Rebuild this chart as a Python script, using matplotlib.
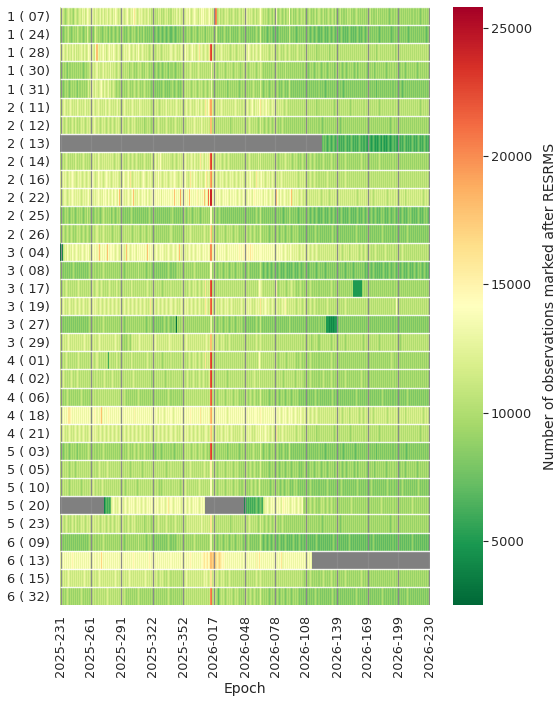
import numpy as np
import matplotlib
matplotlib.use("Agg")
import matplotlib.pyplot as plt
from datetime import date, timedelta

# ---------------- data ----------------
row_labels = ["1 ( 07)", "1 ( 24)", "1 ( 28)", "1 ( 30)", "1 ( 31)",
              "2 ( 11)", "2 ( 12)", "2 ( 13)", "2 ( 14)", "2 ( 16)", "2 ( 22)", "2 ( 25)", "2 ( 26)",
              "3 ( 04)", "3 ( 08)", "3 ( 17)", "3 ( 19)", "3 ( 27)", "3 ( 29)",
              "4 ( 01)", "4 ( 02)", "4 ( 06)", "4 ( 18)", "4 ( 21)",
              "5 ( 03)", "5 ( 05)", "5 ( 10)", "5 ( 20)", "5 ( 23)",
              "6 ( 09)", "6 ( 13)", "6 ( 15)", "6 ( 32)"]

start_year, start_doy, n_days = 2025, 231, 365

# one letter per day: a=2000, b=3000, ... (thousands, +1 per letter); '.' = no data
row_codes = [
 # 1 ( 07)
 "jikji hijkj ijihj kjijk kjlkl jkmlk kjlkj lkjkl jkljk kljkl kjlkm lkjkj"
 "klkjk lmkjk lkmol kjklk lkjkk jkljk ijkji jikjk ijijk jkiji kjkjl kjlkj"
 "kljkl lkmkj klmlk kjlkm lmklk klmkl jkqts ijkij jijkj kjiji jkjij ijkji"
 "kjklk jkjkj ijkij jkmkj ijiji hijih jijmi hijih ijhij imhij hihij ihiji"
 "ijhih ijihi hijhi jihij hihij ihiji hjhih ijhih hihji ijhih hijih ihihi"
 "hihih ijhih hihjh ihihi hihih ghihi hihgh ihihi hihih ihhih hihih ghihi hihih",
 # 1 ( 24)
 "hihgh ihijh hghih ihjih hihgh ihkih hihgi kihih hghih ihgih ghihg hihgi"
 "hihgh ghihg hihih ghigh hgihg hghgh ghgfg hgfgh gfghg fghgf ghgfg hghgh"
 "hihgh ihihg hihih ghihi hihgi hihih ihihk hghgh ghihg hghig hghgh ghihg"
 "hghgh ghghg hghih ghkhg hghgf ghghg fghgf ghghg hghgh gjhgh ghgfg hghgh"
 "ghgfg hgfgh gfghg fgfgh gfgfg hgfgh gfgfg fghgf gfgfg hgfgf gfghg fgfgh"
 "gfghg hghgh ghghg fghgh ghghg hgfgh ghghg hghgh ghgfg hghgh ghghg hghgh gfghg",
 # 1 ( 28)
 "kjklk jkljk kjlkj ljkjk klkjl kjkml lmlkj mqlkl klmkl jklmk lkmlk jklkj"
 "kjklk lklmk jklkj lkmkj klkjk jkjij kjkji jkjkj ijkjk jkjkl kjklk jkjkl"
 "kjkmk lkjkl mklkj klokl kjklk jkouv kjkjk jkjkl kjkjk jkjij kjkji jkjkj"
 "kjklk mlkjk ljklk jkmkj kjkjk jijkj kjkji jkjij ijkji jkjij ijijk jijij"
 "jijij ijiji jijhi ijiji jijij hijij ijiji jijij ijiji jijij ijiji jijij"
 "ijiji jijij ijhij jijij ijiji jijij hijij ijiji jijij ijiji jijij ijiji jijij",
 # 1 ( 30)
 "hihih ihgih hihih ihihi hihgh ihiij jkjkj kljkj jkljk kjkjl jkjkj ijkji"
 "ijiji jijhi ijihi hijij ihihj ijihi hihgh ihghi hghih ihgih hihgh ihihi"
 "ijiji jijkj ijiji jkjij ijiji jijin ijiji hijij ijihi jijij ihiji jiihi"
 "ijiji hijij ijihi jikji hihih ihihi ihiji hihih ihjhi hihih ihihi hihih"
 "hihih ghihi hghih ihghi hihgh ihihi ghihi hihgh ihghi hihih ghigh ihihi"
 "hihgh ihihi ghihi hihih ihghi hihih ihihg hihih ghihi hihih ihghi hihih ihihi",
 # 1 ( 31)
 "hihgh ihihg hihih ihgih hihih ihiki kmlkj lkjkl mkjlk jkljk ijkji hiihi"
 "ihihi hijih ihiji hijih ihiji hihih ghghg hghgh ghihg hghgh ihghi hghgh"
 "ihiji jijih ijiji hijij ihiji hijil ihihi hihih ihihi ghihi hihih ihghi"
 "hihih ihihi jihih ihkih ghihi hghih ihghi hghgh ihghg hjhgh ghghg hghgh"
 "ghghg hghgh ghghg hghgh gfghg hghgh ghghg hghgf ghghg hghgh ghghg hghgh"
 "ghghg hghgh ghfhg hghgh ghghg hghgh ghghg hgfgh ghghg hghgh ghghg hghgh ghghg",
 # 2 ( 11)
 "jkjkl kjkjk lkjkj kjlkj kjkjk ljkjk kjklk jklkj kjkjl kjklk jkjkj kljkj"
 "kjklk jkjkj klkjk jkjlk kjkjk jkjkj ijkjk jkjij kjkjk ljkjk jkjkl kjkjk"
 "jkjkl kjklk jkjkl kljkl kjkol kmorr kjkjk jkjkl kjkjk jkjkj kjklk jkjkj"
 "jkjkl kjklm kjlkl kmokl lklmk lkjkl klnkj kjkjk jijkj ijiji jijij ijiji"
 "jijij ijiji jijhi ijiji jijij ijiji hijij ijiji jijij ihiji jijij ijiji"
 "ijiji jijij ijiji hijij ijiji jijij ijihi jijij ijiji jijij ijiji hijij ijiji",
 # 2 ( 12)
 "ijkji jkjij ijkji kjiji jkjkj ijkjk jkjkl kjkji jkjkj ijkji jkjij kjkji"
 "jkjij ijkji jkjkj ijiji jijhi ijiji hijij ijkji jijij kjiji jijkj ijiji"
 "jkjij kjkjk jklkj kjkjl kjkjk jkjqq ijiji jijij ijiji jijhi ijiji jijij"
 "ijiji jkjij ijiji hikij ihiji hijih ijiji hihij ihihi hihih ihihi hihih"
 "ihihi hihih ihihi hihgh ihihi hihih ihihi hghih ihihi hihih ihihi hihih"
 "ihihi hihih ihihi hihih ihihi hghih ihihi hihih ihihi hihih ihihi hihih ihihi",
 # 2 ( 13)
 "." * 258 +
 "fg fgfef gfefg fefgf efefe fgfef efgfe fefef gfefe"
 "efede fedef edede fedfe dedef edefe fedef efefg fefef efgfe fefgf efefg fefef",
 # 2 ( 14)
 "ijiji jkjij ijiji kjiji jijkj ijiji jkjkj kjlkj jkjkj kjkjk jkjij kjkji"
 "jkjij ijkji jkjij kjiji jijkj ijiji kjkjl kjlkm kjkjk jkjkj ijkji jkjkj"
 "kjklk jkjkl kjlkj kjkok lkjlk lkouv kjkjk jkjkj ijkji jkjij ijiji jijij"
 "ijiji jkjij ijiji kikij ijiji jijij ijiji hijij ijkji jijih ijiji hihij"
 "ihiji hijih ijihi hihij ihihi hijih ihihi hihih ijihi hihih ihihi hijih"
 "ihihi hihih ihihi jihih ihihi hihih ihihi hihih ihihi hihih ihihi hihih ihihi",
 # 2 ( 16)
 "kjklk lkjkl klmlk kjklk lkjkl kjklk klmlk jkmlk lkjkl mlklk jklkl klkjk"
 "lkmlk klmko kjklk lklkj klmlk jklkl kjklk lkmkl kjklk lkjkl klmlk kjklk"
 "lklmk kjkol klmkl kjlkl kjkmo klkrs klmkl kjklk lkjkl kjklk lkjkl kjklk"
 "lkjkl klmkl kjkol lklmk lkjkl kljkl kjlkj kjklk jkjkj kjkjk jkjkj ijkjk"
 "jkjij ijkji jkjij ijiji jijkj ijiji jijij ijiji jkjij ijiji jijij ijiji"
 "jijij ijiji jijij ijiji jijij ijiji jijij ijiji jijij ijiji jijij ijiji jijij",
 # 2 ( 22)
 "kljkl lkjkl klmlk lklkl kjklk lklmk lmlkl klmlk lkmlm lkmlk lmklm lkmqk"
 "lmlkl klmlk lmqlk lkmlk lmlml kmlkl lmlml mlmlm kmlml mlmlm lmqml mlmrl"
 "mlmlm lmqml mlmlm nlmlm lmqlm ltmww lmlml mlmlk lmlml mlkml lmlml klmlk"
 "lmlkl mlmlk mnmlm lmlml kmlml klmlk lmlqm lkmlk lmlkl klmqk lklkl kjklk"
 "jkjkj kjkjk jkjkj kjijk jkjkj ijkjk jkjkj kjkjk jkjkj kjkjk jkjij kjkjk"
 "jkjkj kjkji jkjkj kjkjk jkjij kjkjk jkjkj kjkjk ijkjk jkjkj kjkjk jkjij kjkjk",
 # 2 ( 25)
 "hihgh ihihg hihih ghihi hihgh ihjhi hihgh ihihg hijih ihihi ghihg hihih"
 "ghghg hghgh ihghg hghgh ghghg hghih ghghg hghgh ghghg hghgh ihghg hghgh"
 "ghihg hihih ghihi hihgh ihihi hihmm hihih ghihg hghgh ghghg hghgh ghghg"
 "hghgh ghghg hghih ghjhg hghgh ghghg hghgh ghghg fghgh gihgh ghghg fghgh"
 "ghgfg hgfgh gfghg fgfgh gfgfg hgfgh gfgfg fghgf gfgfg hgfgf gfghg fgfgh"
 "gfghg fghgf ghgfg fghgh gfgfg hgfgh gfgfg fghgf gfghg hgfgf gfghg fgfgh ghgfg",
 # 2 ( 26)
 "ihiji hijih ijihi hijij ihiji hijih ijiji jkjij ijkji jijij ihiji jijih"
 "ijiji jijij ihiji jijih ijiji hijij ihihi hihih ihihi hihij ihihi hihih"
 "ijiji jijkj ijiji jijij ijkji jijoq ijiji hijij ijihi jijij ihiji jihih"
 "ihiji hijih ijihi hikih ihihi hghih ihihi hghih ihghi hihgh ihihi hghgh"
 "ghghg hghgh ghihg hghgh ghghg hghih ghghg hghgh ghghg hghgh ghihg hghgh"
 "ghghg hghgh ghghg hghih ghghg hghgh ghghg hghgh ghihg hghgh ghghg hghgh ghghg",
 # 3 ( 04)
 "bccjk lkmlk lkmlk lmlkl klmlk lmlmk lmlml mlnql mlmlm lqmlm mlmlk lmlkl"
 "lmlkl qlmlk lmlml kmlml mlmlm lqmlm lmlkl mlklm lmlkl klmlk lmlkl mlqlk"
 "lmlkl klmlk lmlkl mlmlk lmlml lmlss lmlml kmlml mlmlk lmlml mlmlm lmnml"
 "mnmnm nmomn mlmlm lmmml mlmlm lmlml mlmlm lmlml klmlk lkmlk lklkl kjklk"
 "klkjk lkjkl kjklk jkjkj kjkjk jkjkj kjkjk jkjij kjkjk ijkjk jkjkj ijkji"
 "jkjij kjiji jkjij ijiji jkjij ijiji jijij ijkji jijij ijiji jijij ijiji jijij",
 # 3 ( 08)
 "hghgh ghghg hghih ghghg hghgh ghghi hihih ihihi hijih ihihi hihih ihihi"
 "hihgh ihihi hihih ihjhi hihih ghihi hghgh ghghg hghgh ghihg hghgh ihihi"
 "hihih ihihi hijih ihihi hihih ihimm hihih ghihi hghih ihghi hihgh ihihi"
 "hghgh ihghg hghgh ghjhg fghgf ghgfg hgfgf ghgfg fghgf gfgfg hgfgf ghgfg"
 "ghghg fghgh ghgfg hghgh gfghg hghgh ghgfg hghgh gfghg hghgf ghghg hghgh"
 "gfgfg hgfgh gfgfg fgfgh gfgfg hgfgh gfgfg fghgf gfghg fgfgh gfghg hgfgh gfgfg",
 # 3 ( 17)
 "ijiji jkjij ijiji jijkj ijiji jijij ijkji jkjij kjiji jijkj ijiji kjiji"
 "jijij ijiji kjiji jijij ijiji jkjij ijiji jijij ihiji jijij ijiji jijij"
 "jkjij ijkji jkjkj ijkji jkjoj kjkuv ijiji jijij ijiji jijij ijiji jijij"
 "ijiji jijij ijiji kmlkj ijiji jijij ijini hijij ijihi jijkj ijihi hijih"
 "ihihi hijih ihihi hihih ihihi hijih ihihi hihih ihihi hihid ddddd dddhi"
 "hihih ihihi hihih ihihi hihih ihihi hihih ihihi hihih ihihi hihih ihihi hihih",
 # 3 ( 19)
 "kjklk jkjkl kjkjk lkjkl kjklk jkjkl kjklk lkjkl kjklk jklkj klkjk lkjkl"
 "kjklk jklkj klkjk lkjkl kjklk jkjko kjklk jklkj klkjk lkjkl kjklk jkjkl"
 "kjklk lkjkl kjklk jklkj kjkol kjktu kjklk jkjkl kjklk lkjkl kjkjk jkjkl"
 "kjklk lklkj kjklk lkokl klmlk lkjkl kjklk jkjkl klnkj kjkjk jkjij kjkji"
 "jkjij ijkji jkjij ijiji jijkj ijiji jijij ijiji jkjij ijiji jijij ijiji"
 "jijij ijiji jijij ijiji jijij ijiji jmjij ijiji jijij ijiji jijij ijiji jijij",
 # 3 ( 27)
 "hghgh ghghg hghgh ghghg hghgh ghghi hihih ihihi hijih ihihi hihih ihihi"
 "hihgh ihihi hihih ihihi hihih ghihi hghgh ghghg hghih ghihg hghgb ihihi"
 "iwihi hihih ihihi hihih ihihi hihkl hihih ghihi hghih ihghi hihgh ihihi"
 "hghgh ghghg hghih ghjhg hghgh ghghg hghgh ghghg hghgh gihgh ghghg hghgh"
 "ghghg hghgh ghghg hghgh ghddd cdcdc dddhg hghgh ghghg hghgh ghghg hghgh"
 "ghghg hghgh ghghg hghgh ghghg hghgh ghghg hghgh ghghg hghgh ghghg hghgh ghghg",
 # 3 ( 29)
 "jkjkj kjklk jkjkj kjkjk jkjkl kjkjk jkjkj kjklk jkjkj kjkjk jkjkl kjkjk"
 "ihihi hijih jkjkj kjklk jkjkj kjkjk jkjkl kjkjk jkjkj kjklk jkjkj kjkjk"
 "jkjkl kjkjk jkjkj kjkjk jkjkl kjkqq jkjkj kjijk jkjij ijkji jijij ijiji"
 "jijij ijiji jijkj ijkji jijij ijiji jijij ijiji jijij ijiji jijij ijiji"
 "ijiji jijhi ijiji hijij ijiji jihij ijiji jijij ihiji jijij ijiji jijih"
 "ijiji jijij ijiji hijij ijiji jijij ijiji hijij ijiji jijij ijiji jijij ijiji",
 # 4 ( 01)
 "ijiji jkjij ijiji jijkj ijiji jijij ijkji jkjij ijiji jiejj ijiji kjiji"
 "jijij ijiji kjiji jijij ijiji jkjij ijiji jijij ihiji jijij ijiji jijij"
 "jkjij ijkji jkjkj ijkji jkjoj kjkuv ijiji jijij ijiji jijij ijiji jijij"
 "ijiji jijij ijiji kmkij ijiji jijij ijiji hijij ijihi jijij ijihi hijih"
 "ihihi hijih ihihi hihih ihihi hijih ihihi hihih ihihi hihih ihihi hihih"
 "ihihi hihih ihihi hihih ihihi hijih ihihi hihih ihihi hihih ihihi hihih ihihi",
 # 4 ( 02)
 "jijkj ijiji jkjij ijkji jijij ijiji jkjij ijiji jijkj ijiji jkjij ijiji"
 "ijiji jijij ijkji jijij ijiji jijij hijij ijiji jijih ijiji jijij ijiji"
 "jijij kjiji jkjij ijkji jkjij ijkuv ijiji jijij ijiji hijij ijiji jijij"
 "ijiji jijij jkjij ikiji jijij ijiji jijij ijiji hijij ijiji jihij ijiji"
 "ihiji hijih ihihi hihij ihihi hijih ihihi hihih ijihi hihih ihihi hijih"
 "ihihi hihih ihihi hihih ihihi hihih ihihi hihih ihihi hihih ihihi hihih ihihi",
 # 4 ( 06)
 "ihihi hijih ihihi hihih ijihi hihih ijiji jijij ijiji jijij ijiji jijij"
 "ijiji hihih ihihi hijih ihihi hihih ihihi hihih ihihi hijih ihihi hihih"
 "ijiji jijij ijiji jijij ijiji jijtu ijiji hijij ijihi jijij ihiji jihih"
 "ihiji hijih ijihi hikih ihihi hghih ihihi hghih ihghi hihgh ihihi hghgh"
 "ghghg hghgh ghihg hghgh ghghg hghih ghghg hghgh ghghg hghgh ghihg hghgh"
 "ghghg hghgh ghghg hghih ghghg hghgh ghghg hghgh ghihg hghgh ghghg hghgh ghghg",
 # 4 ( 18)
 "lmlml mlmoo nmlml mlmlm lmlml mlmlm lmlmn mlmln qlmlm lmnml mlmlm lmlml"
 "lmlml mlmlm lmlnl mlmlm lmlml mlmlm lmlml mlkml lmlkl mlmlm lklml mlmlm"
 "lmlml mlmnm lmlml mlmol mlmlm lmlqr lmlml mlmlm lmlml klmlm lmlml mlmlm"
 "lmlml mlmlm lmmml mlnml lmlml mlmlm lmlml lmlkl mlmlk lmlml klmlk lkmlk"
 "klkjk lkjkl kjklk jkjkj kjkjk jkjkj kjkjk jkjij kjkjk ijkjk jkjkj ijkji"
 "jkjkj kjkji jkjkj kjkjk jkjij kjkjk jkjkj kjkjk ijkjk jkjkj kjkjk jkjij kjkjk",
 # 4 ( 21)
 "kjklk jkjkl kjkjk lkjkl kjklk jkjkl kjklk lkjkl kjklk jklkj klkjk lkjkl"
 "kjklk jklkj klkjk lkjkl kjklk jkjkl kjklk jklkj klkjk lkjkl kjklk jkjkl"
 "kjklk lkjkl kjklk jklkj kjkll kjkpq kjklk jkjkl kjklk lkjkl kjkjk jkjkl"
 "kjklk lklkj kjklk lkmkl klmlk lkjkl kjkok jkjkl kjkkj kjkjk jkjij kjkji"
 "jijij ijiji jijhi ijiji jijij ijiji hijij ijiji jijij ihiji jijij ijiji"
 "ijiji jijij ijiji hijij ijiji jijij ijihi jijij ijiji jijij ijiji hijij ijiji",
 # 5 ( 03)
 "hihgh ihihg hihih ihgih hihih ihiji hihih ihihi hijih ihihi hihih ihihi"
 "ihihi hijih ihiji hijih ihiji hihih ihihg hihih ghihi hihih ihghi hihih"
 "ihiji jijih ijiji hijij ihiji hihuv ihihi hihih ihihi ghihi hihih ihghi"
 "hihih ihihi jihih ihkih ghihi hghih ihghi hghgh ihghg hjhgh ghghg hghgh"
 "ghghg hghgh ghghg hghgh gfghg hghgh ghghg hghgf ghghg hghgh gfghg hghgh"
 "ghghg hghgh ghfhg hghgh ghghg hghgh ghghg hghgh gfghg hghgh ghghg hghgh ghghg",
 # 5 ( 05)
 "ijiji jijih ijiji hijij ijiji jijij ijiji jijkj ijiji jkjij ijiji jijij"
 "ijiji jijih ijiji jijij ihiji jijij ijiji jijij ijiji hijij ijiji jijij"
 "ijiji jijkj ijiji jijij ijkji jijnn ijiji hijij ijihi jijij ihiji jihih"
 "ihiji hijih ijihi hikih ihihi hghih ihihi hghih ihghi hihgh ihihi hghgh"
 "hihih ghihi hghih ihghi hihgh ihihi ghihi hihgh ihghi hihih ghigh ihihi"
 "hihgh ihihi ghihi hihih ihghi hihih ihihg hihih ghihi hihih ihghi hihih ihihi",
 # 5 ( 10)
 "ihiji jijih ijiji jijij ihiji jijij jijkj ijiji jkjij ijiji jijij ijiji"
 "jijih ijiji jijij ihiji jijij ijiji jijij ijihi hijij ijiji jijij ijihi"
 "jijkj ijiji jijij ijkji jijij ijimm ijiji hijij ijihi jijij ihiji jihih"
 "hijih ihiji hijih ikihi hihih ihghi hihih ihghi hghih ihghg hihih ghghg"
 "hghih ghihg hghgh ghghg hghih ghghg hghgh ghihg hghgh ghghg hghih ghghg"
 "hghgh ghihg hghgh ghghg hghih ghghg hghgh ghihg hghgh ghghg hghih ghghg hghgh",
 # 5 ( 20)
 "." * 43 + "cefefef" +
 "klmlk lklml mlklm lklml mlmlk lmlml klmlk lmlml mlklm"
 "lmlkl mlmlk lmolm lklml mlmlk lmlml klmlk lmlml mlklm lml" +
 "." * 39 +
 "cefefefefefgfefgfejkl"
 "lmlkl mlmlk lmlml kmnml mlmlk lmlml klmlk lm"
 "ihiji hijih ijihi hijij ihiji hijih ihihi hihih ihihi hijih ihihi hihih ihihi"
 "hihih ihihi hijih ihihi hihih ihihi hihih ihihi hijih ihihi hihih ihihi",
 # 5 ( 23)
 "ijkji jkjij ijkji kjiji jkjkj ijkjk jkjkj kjkji jkjkj ijkji jkjij kjkji"
 "jkjij ijkji jkjkj ijiji jijhi ijiji hijij ijkji jijij kjiji jijkj ijiji"
 "jkjij kjkjk jkjkj kjkjl kjkjk jkjoo ijiji jijij ijiji jijhi ijiji jijij"
 "ijiji jkjij ijiji hikij ihiji hijih ijiji hihij ihihi hihih ihihi hihih"
 "ihihi hihih ihihi hihgh ihihi hihih ihihi hghih ihihi hihih ihihi hihih"
 "ihihi hihih ihihi hihih ihihi hghih ihihi hihih ihihi hihih ihihi hihih ihihi",
 # 6 ( 09)
 "hghgh ghghg hghgh ghghg hghgh ghghi hihih ihihi hijih ihihi hihih ihihi"
 "hihgh ihihi hihih ihjhi hihih ghihi hghgh ghghg hghgh ghihg hghgh ihihi"
 "hihih ihihi hijih ihihi hihih ihill hihih ghihi hghih ihghi hihgh ihihi"
 "hghgh ihghg hghgh ghjhg fghgf ghgfg hgfgf ghgfg fghgf gfgfg hgfgf ghgfg"
 "gfgfg fgfgf gfghg fgfgf gfgfg fgfgh gfgfg fgfgf gfgfg hgfgf gfgfg fgfgf"
 "gfgfg fgfgh gfgfg fgfgf gfgfg fgfgf gfgfg fgfgf gfgfg fghgf gfgfg fgfgf gfgfg",
 # 6 ( 13)
 "lmlml mlmlm lmnml mlmlm lmlml mlmlm lmlml mlmlm pmlml mlmlm lmlml mlmlm"
 "nmlml mlmlm lmnml mlmlm lmlml mlmnm lmlml mlmlm lmlml mlmlm lmlml mlmlm"
 "lmlml mlmnm lmlml mlmlm mnomn omnqq pqopo nopon mnmlm lmlml mlmlm lmlml"
 "lmlml mlmlm lmlnl momlm lmlml mlmlm lmlml mlmol lmlml mlmlm lmlml mlmlm"
 "lmlmlmlml" + "." * 116,
 # 6 ( 15)
 "jkjkj kjklk jkjkj kjkjk jkjkl kjkjk jkjkj kjklk jkjkj kjkjk jkjkl kjkjk"
 "jkjkj kjklk jkjkj kjkjk jkjkl kjkjk jkjkj kjijk jkjij ijkji jijij ijiji"
 "jkjkl kjkjk jkjkj kjkjk jklkl kjkoo jkjkj kjijk jkjij ijkji jijij ijiji"
 "jijij ijiji jijkj ijkji jijij ijiji jijij ijiji jijij ijiji jijij ijiji"
 "ihiji hijih ihihi hihij ihihi hijih ihihi hihih ijihi hihih ihihi hijih"
 "ihihi hihih ihihi hihih ihihi hihih ihihi hihih ihihi hihih ihihi hihih ihihi",
 # 6 ( 32)
 "ihihi hijih ihihi hihih ijihi hihih ijiji jijij ijiji jkjij ijiji jijij"
 "ijiji hihih ihihi hijih ihihi hihih ihihi hihih ihihi hijih ihihi hihih"
 "ijiji jijij ijiji jijij ijiji jijst ijiji hfhij ijihi jijij ihiji jihih"
 "ihiji hijih ijihi hikih ihihi hghih ihihi hghih ihghi hihgh ihihi hghgh"
 "ghghg hghgh ghihg hghgh ghghg hghih ghghg hghgh ghghg hghgh ghihg hghgh"
 "ghghg hghgh ghghg hghih ghghg hghgh ghghg hghgh ghihg hghgh ghghg hghgh ghghg",
]

cbar_ticks = [5000, 10000, 15000, 20000, 25000]
v_min, v_max = 2500, 25800

# ---------------- decode ----------------
codes = [c.replace(" ", "") for c in row_codes]
lens = [len(c) for c in codes]
if len(codes) != len(row_labels) or any(L != n_days for L in lens):
    raise ValueError(f"rows={len(codes)} lengths={lens}")

def decode(ch):
    return np.nan if ch == "." else (ord(ch) - ord("a") + 2) * 1000.0

data = np.array([[decode(ch) for ch in c] for c in codes])

d0 = date(start_year, 1, 1) + timedelta(days=start_doy - 1)
epochs = [(d0 + timedelta(days=i)) for i in range(n_days)]
epoch_labels = [f"{d.year}-{d.timetuple().tm_yday:03d}" for d in epochs]
tick_idx = np.linspace(0, n_days - 1, 13).astype(int)

# ---------------- plot ----------------
txt = "#262626"
fig = plt.figure(figsize=(5.59, 7.03), dpi=100)
W, H = 559, 703
ax = fig.add_axes([60 / W, 1 - 605 / H, 370 / W, 598 / H])
cax = fig.add_axes([453 / W, 1 - 605 / H, 30 / W, 598 / H])

ax.set_facecolor("#808080")
mesh = ax.pcolormesh(np.ma.masked_invalid(data), cmap="RdYlGn_r",
                     vmin=v_min, vmax=v_max, rasterized=True)
ax.set_xlim(0, n_days)
ax.set_ylim(len(row_labels), 0)
for s in ax.spines.values():
    s.set_visible(False)

ax.vlines(tick_idx + 0.5, 0, len(row_labels), color="#8a8a8a", lw=0.9, zorder=3)
ax.hlines(np.arange(0, len(row_labels)), 0, n_days, color="white", lw=1.0, alpha=0.9, zorder=4)

ax.set_yticks(np.arange(len(row_labels)) + 0.5)
ax.set_yticklabels(row_labels, fontsize=9.3, color=txt)
ax.set_xticks(tick_idx + 0.5)
ax.set_xticklabels([epoch_labels[i] for i in tick_idx], rotation=90, fontsize=9.3, color=txt)
ax.tick_params(length=0, pad=7)
ax.set_xlabel("Epoch", fontsize=10.1, color=txt, labelpad=4)

cb = fig.colorbar(mesh, cax=cax)
cb.outline.set_visible(False)
cb.set_ticks(cbar_ticks)
cb.ax.tick_params(labelsize=9.3, length=3.5, width=0.8, colors=txt, pad=2)
cb.set_label("Number of observations marked after RESRMS", fontsize=10.1, color=txt, labelpad=8)

fig.savefig("out.png", dpi=100)
